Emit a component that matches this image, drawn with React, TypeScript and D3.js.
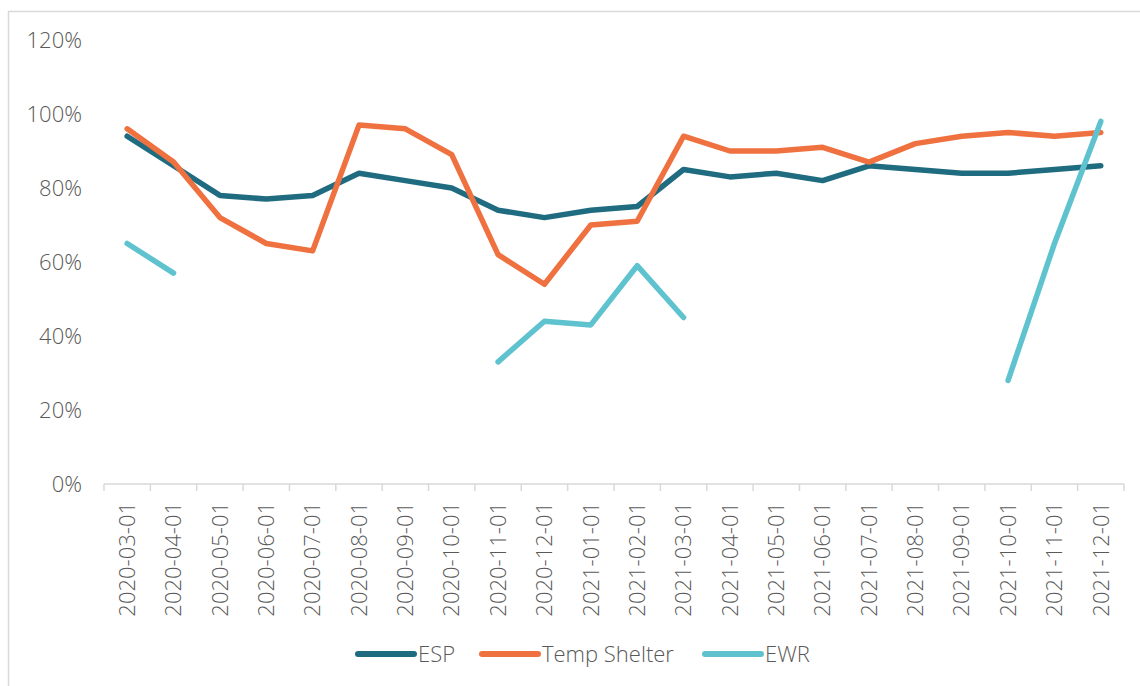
import { useMemo } from 'react';
import * as d3 from 'd3';

const WIDTH = 1140;
const HEIGHT = 686;
const MARGIN = { top: 40, left: 104, right: 16, bottom: 202 };
const FONT = '"Open Sans", Lato, sans-serif';
const FONT_SIZE = 22;
const TEXT_COLOR = '#595959';
const AXIS_COLOR = '#d9d9d9';

const months = [
  '2020-03-01', '2020-04-01', '2020-05-01', '2020-06-01', '2020-07-01', '2020-08-01',
  '2020-09-01', '2020-10-01', '2020-11-01', '2020-12-01', '2021-01-01', '2021-02-01',
  '2021-03-01', '2021-04-01', '2021-05-01', '2021-06-01', '2021-07-01', '2021-08-01',
  '2021-09-01', '2021-10-01', '2021-11-01', '2021-12-01',
];

const esp = [94, 86, 78, 77, 78, 84, 82, 80, 74, 72, 74, 75, 85, 83, 84, 82, 86, 85, 84, 84, 85, 86];
const tempShelter = [96, 87, 72, 65, 63, 97, 96, 89, 62, 54, 70, 71, 94, 90, 90, 91, 87, 92, 94, 95, 94, 95];
const ewr = [65, 57, null, null, null, null, null, null, 33, 44, 43, 59, 45, null, null, null, null, null, null, 28, 65, 98];

const yTicks = [0, 20, 40, 60, 80, 100, 120];

const series = [
  { name: 'ESP', values: esp, color: '#1f6b80' },
  { name: 'Temp Shelter', values: tempShelter, color: '#f07140' },
  { name: 'EWR', values: ewr, color: '#5fc3cf' },
];

export default function App() {
  const plotBottom = HEIGHT - MARGIN.bottom;
  const plotRight = WIDTH - MARGIN.right;

  const x = useMemo(
    () => d3.scaleBand<string>().domain(months).range([MARGIN.left, plotRight]).paddingInner(0).paddingOuter(0),
    [plotRight]
  );
  const y = useMemo(() => d3.scaleLinear().domain([0, 120]).range([plotBottom, MARGIN.top]), [plotBottom]);

  const line = d3
    .line<number | null>()
    .defined((d) => d != null)
    .x((_, i) => (x(months[i]) as number) + x.bandwidth() / 2)
    .y((d) => y(d as number));

  const boundaries = months.map((m) => x(m) as number).concat([plotRight]);

  // legend layout
  const legendY = 654;
  const legendItems = [
    { ...series[0], x0: 358 },
    { ...series[1], x0: 482 },
    { ...series[2], x0: 705 },
  ];

  return (
    <svg
      width={WIDTH}
      height={HEIGHT}
      viewBox={`0 0 ${WIDTH} ${HEIGHT}`}
      style={{ position: 'absolute', left: 0, top: 0, background: '#fff' }}
      fontFamily={FONT}
      fontWeight={300}
    >
      <rect x={8.5} y={11.5} width={1200} height={800} fill="#fff" stroke={AXIS_COLOR} strokeWidth={1.5} />

      {yTicks.map((t) => (
        <text key={t} x={82} y={y(t)} dy="0.35em" textAnchor="end" fontSize={FONT_SIZE} fill={TEXT_COLOR}>
          {t}%
        </text>
      ))}

      <line x1={MARGIN.left} x2={plotRight} y1={plotBottom} y2={plotBottom} stroke={AXIS_COLOR} strokeWidth={1.5} />
      {boundaries.map((bx, i) => (
        <line key={i} x1={bx} x2={bx} y1={plotBottom} y2={plotBottom + 7} stroke={AXIS_COLOR} strokeWidth={1.5} />
      ))}

      {months.map((m) => {
        const cx = (x(m) as number) + x.bandwidth() / 2;
        return (
          <text
            key={m}
            transform={`translate(${cx},${plotBottom + 18}) rotate(-90)`}
            textAnchor="end"
            dy="0.35em"
            fontSize={FONT_SIZE}
            fill={TEXT_COLOR}
          >
            {m}
          </text>
        );
      })}

      {series.map((s) => (
        <path
          key={s.name}
          d={line(s.values) || ''}
          fill="none"
          stroke={s.color}
          strokeWidth={5.5}
          strokeLinecap="round"
          strokeLinejoin="round"
        />
      ))}

      {legendItems.map((s) => (
        <g key={s.name}>
          <line x1={s.x0} x2={s.x0 + 56} y1={legendY} y2={legendY} stroke={s.color} strokeWidth={6} strokeLinecap="round" />
          <text x={s.x0 + 60} y={legendY} dy="0.35em" fontSize={FONT_SIZE} fill={TEXT_COLOR}>
            {s.name}
          </text>
        </g>
      ))}
    </svg>
  );
}
